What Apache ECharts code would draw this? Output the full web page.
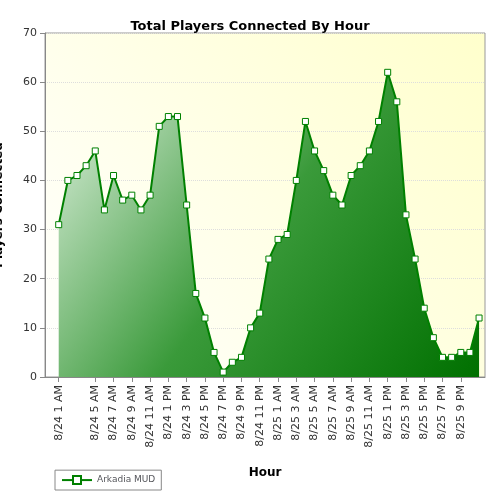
<!DOCTYPE html><html><head><script src="https://cdn.jsdelivr.net/npm/echarts@6/dist/echarts.min.js"></script></head><body style="margin:0"><div id="c" style="width:500px;height:500px"></div><script>
const categories=[];
for(const d of ['8/24','8/25'])for(let h=(d==='8/24'?1:0);h<24;h++){const hh=h%12===0?12:h%12;categories.push(d+' '+hh+' '+(h<12?'AM':'PM'));}
const players=[31,40,41,43,46,34,41,36,37,34,37,51,53,53,35,17,12,5,1,3,4,10,13,24,28,29,40,52,46,42,37,35,41,43,46,52,62,56,33,24,14,8,4,4,5,5,12];
const yTicks=[0,10,20,30,40,50,60,70];
const labelIdx=categories.map((_,i)=>i).filter(i=>i%2===0);
const c=echarts.init(document.getElementById('c'));
c.setOption({
backgroundColor:'#fff',
title:{text:'Total Players Connected By Hour',left:'center',top:8,textStyle:{fontSize:13,fontWeight:'bold',color:'#000',fontFamily:'DejaVu Sans'}},
legend:{left:55,bottom:10,itemWidth:30,itemHeight:10,borderColor:'#888',borderWidth:1,padding:[1,6],textStyle:{fontSize:9,fontFamily:'DejaVu Sans'},data:['Arkadia MUD']},
grid:{left:45,right:15,top:33,bottom:123,outerBoundsMode:'none',containLabel:false,show:true,borderColor:'#999',backgroundColor:new echarts.graphic.LinearGradient(0,1,1,0,[{offset:0,color:'#ffffff'},{offset:1,color:'#ffffcc'}])},
xAxis:{type:'value',min:-1.5,max:46.65,name:'Hour',nameLocation:'middle',nameGap:83,nameTextStyle:{fontWeight:'bold',fontSize:12,color:'#000',fontFamily:'DejaVu Sans'},
axisLine:{onZero:false,lineStyle:{color:'#888'}},splitLine:{show:false},
axisTick:{customValues:labelIdx,lineStyle:{color:'#888'}},
axisLabel:{customValues:labelIdx,hideOverlap:false,showMinLabel:true,formatter:v=>categories[v],rotate:90,fontSize:11,color:'#333',fontFamily:'DejaVu Sans'}},
yAxis:{type:'value',min:0,max:70,interval:10,name:'Players Connected',nameLocation:'middle',nameGap:30,nameTextStyle:{fontWeight:'bold',fontSize:12,color:'#000',fontFamily:'DejaVu Sans'},
axisLine:{show:true,onZero:false,lineStyle:{color:'#888'}},axisTick:{show:true},axisLabel:{fontSize:11,color:'#333',fontFamily:'DejaVu Sans'},
splitLine:{lineStyle:{color:'#ddd',type:'dotted'}}},
series:[{name:'Arkadia MUD',type:'line',data:players.map((v,i)=>[i,v]),symbol:'rect',symbolSize:6,
itemStyle:{color:'#fff',borderColor:'#008000',borderWidth:1},lineStyle:{color:'#008000',width:2},
areaStyle:{opacity:1,color:new echarts.graphic.LinearGradient(0,0,1,1,[{offset:0,color:'#e6f4e6'},{offset:0.5,color:'#3a9a3a'},{offset:1,color:'#007000'}])}}]
});
</script></body></html>
